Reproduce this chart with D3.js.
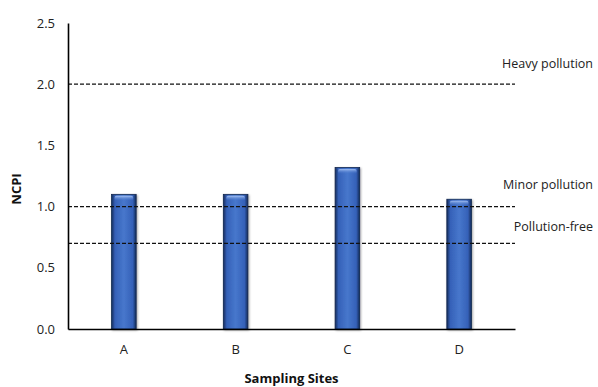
<!DOCTYPE html>
<html>
<head>
<meta charset="utf-8">
<script src="https://cdn.jsdelivr.net/npm/d3@7"></script>
<style>
  html, body { margin: 0; padding: 0; background: #fff; }
  svg { display: block; font-family: "Open Sans", "Noto Sans", sans-serif; }
</style>
</head>
<body>
<svg id="chart" width="598" height="387"></svg>
<script>
// NCPI per sampling site
const sites = ["A", "B", "C", "D"];
const ncpi = [1.10, 1.10, 1.32, 1.06];

// Pollution grade thresholds
const thresholdValues = [2.0, 1.0, 0.7];
const thresholdLabels = ["Heavy pollution", "Minor pollution", "Pollution-free"];

const yTicks = [0.0, 0.5, 1.0, 1.5, 2.0, 2.5];

const svg = d3.select("#chart");
const margin = { left: 68, right: 83, top: 23, bottom: 58 };
const W = 598, H = 387;

const x = d3.scaleBand()
  .domain(sites)
  .range([margin.left, W - margin.right])
  .paddingInner(0.78)
  .paddingOuter(0.39);

const y = d3.scaleLinear()
  .domain([0, 2.5])
  .range([H - margin.bottom, margin.top]);

// Bar gradient: dark edges, brighter middle
const defs = svg.append("defs");
const grad = defs.append("linearGradient").attr("id", "barGrad")
  .attr("x1", "0").attr("x2", "1").attr("y1", "0").attr("y2", "0");
[[0, "#162c5c"], [0.14, "#3561b8"], [0.5, "#4777cc"], [0.86, "#3561b8"], [1, "#142a58"]]
  .forEach(([o, c]) => grad.append("stop").attr("offset", o).attr("stop-color", c));
const gloss = defs.append("linearGradient").attr("id", "glossGrad")
  .attr("x1", "0").attr("x2", "0").attr("y1", "0").attr("y2", "1");
gloss.append("stop").attr("offset", 0).attr("stop-color", "#a9c4f4").attr("stop-opacity", 0.95);
gloss.append("stop").attr("offset", 1).attr("stop-color", "#4777cc").attr("stop-opacity", 0);
const shadow = defs.append("filter").attr("id", "barShadow")
  .attr("x", "-30%").attr("y", "-10%").attr("width", "160%").attr("height", "120%");
shadow.append("feDropShadow").attr("dx", 1).attr("dy", 1).attr("stdDeviation", 1.2)
  .attr("flood-color", "#000").attr("flood-opacity", 0.35);

// Bars
const bars = svg.append("g");
bars.selectAll("rect.bar").data(sites).join("rect")
  .attr("class", "bar")
  .attr("x", d => x(d))
  .attr("y", (d, i) => y(ncpi[i]))
  .attr("width", x.bandwidth())
  .attr("height", (d, i) => y(0) - y(ncpi[i]))
  .attr("fill", "url(#barGrad)")
  .attr("stroke", "#132850")
  .attr("stroke-width", 0.8)
  .attr("filter", "url(#barShadow)");
bars.selectAll("rect.gloss").data(sites).join("rect")
  .attr("class", "gloss")
  .attr("x", d => x(d) + 3)
  .attr("y", (d, i) => y(ncpi[i]) + 1.5)
  .attr("width", x.bandwidth() - 6)
  .attr("height", 5)
  .attr("rx", 2)
  .attr("fill", "url(#glossGrad)");

// Threshold lines and labels
const th = svg.append("g");
th.selectAll("line").data(thresholdValues).join("line")
  .attr("x1", margin.left).attr("x2", W - margin.right)
  .attr("y1", d => y(d)).attr("y2", d => y(d))
  .attr("stroke", "#111").attr("stroke-width", 1.2)
  .attr("stroke-dasharray", "4,2");
const labelOffsets = [-16, -18, -12];
th.selectAll("text").data(thresholdValues).join("text")
  .attr("x", 593)
  .attr("y", (d, i) => y(d) + labelOffsets[i])
  .attr("text-anchor", "end")
  .attr("font-size", 12.5)
  .attr("font-weight", 500)
  .attr("fill", "#222")
  .text((d, i) => thresholdLabels[i]);

// Y axis
const yAxis = svg.append("g")
  .attr("transform", `translate(${margin.left},0)`)
  .call(d3.axisLeft(y).tickValues(yTicks).tickFormat(d3.format(".1f")).tickSize(0).tickPadding(13));
yAxis.select(".domain").attr("stroke", "#000").attr("stroke-width", 1.6);
yAxis.selectAll("text").attr("font-size", 13).attr("fill", "#222")
  .attr("font-family", "\"Open Sans\", sans-serif");

// X axis
const xAxis = svg.append("g")
  .attr("transform", `translate(0,${y(0)})`)
  .call(d3.axisBottom(x).tickSize(0).tickPadding(16));
xAxis.select(".domain").attr("stroke", "#000").attr("stroke-width", 1.6);
xAxis.selectAll("text").attr("font-size", 13).attr("fill", "#222")
  .attr("font-family", "\"Open Sans\", sans-serif");

// Axis titles
svg.append("text")
  .attr("transform", `translate(21,189) rotate(-90)`)
  .attr("text-anchor", "middle")
  .attr("font-size", 13).attr("font-weight", "bold").attr("fill", "#111")
  .text("NCPI");
svg.append("text")
  .attr("x", (margin.left + W - margin.right) / 2)
  .attr("y", 383)
  .attr("text-anchor", "middle")
  .attr("font-size", 13).attr("font-weight", "bold").attr("fill", "#111")
  .text("Sampling Sites");
</script>
</body>
</html>
